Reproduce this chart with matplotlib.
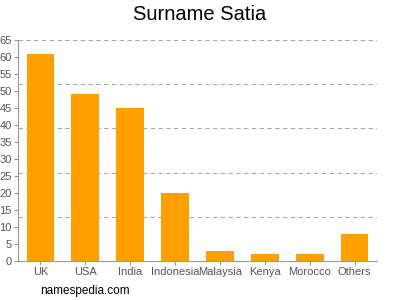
import matplotlib
matplotlib.use("Agg")
import matplotlib.pyplot as plt

plt.rcParams["font.family"] = ["Liberation Sans", "DejaVu Sans"]

countries = ["UK", "USA", "India", "Indonesia", "Malaysia", "Kenya", "Morocco", "Others"]
counts = [61, 49, 45, 20, 3, 2, 2, 8]
y_ticks = list(range(0, 66, 5))
grid_levels = [13, 26, 39, 52, 65]

fig = plt.figure(figsize=(4, 3), dpi=100)
ax = fig.add_axes([0.045, 0.13, 0.8975, 0.7367])

x = list(range(len(countries)))
ax.bar(x, counts, width=0.62, color="#ffa000", zorder=2)

for g in grid_levels:
    ax.axhline(g, color="#aaaaaa", linestyle=(0, (4, 3)), linewidth=0.8, zorder=1)

ax.set_xlim(-0.5, len(countries) - 0.5)
ax.set_ylim(0, 65)
ax.set_xticks(x)
ax.set_xticklabels(countries)
ax.set_yticks(y_ticks)
ax.tick_params(axis="both", labelsize=8, colors="#999999", labelcolor="#555555",
               length=3, width=0.8, pad=1.5)

for side in ("top", "right"):
    ax.spines[side].set_visible(False)
for side in ("left", "bottom"):
    ax.spines[side].set_color("#999999")
    ax.spines[side].set_linewidth(0.8)

fig.text(0.5, 0.953, "Surname Satia", ha="center", va="center", fontsize=14.5, color="#000000")
fig.text(0.1, 0.03, "namespedia.com", ha="left", va="center", fontsize=8.5, color="#000000")

fig.savefig("out.png", dpi=100)
